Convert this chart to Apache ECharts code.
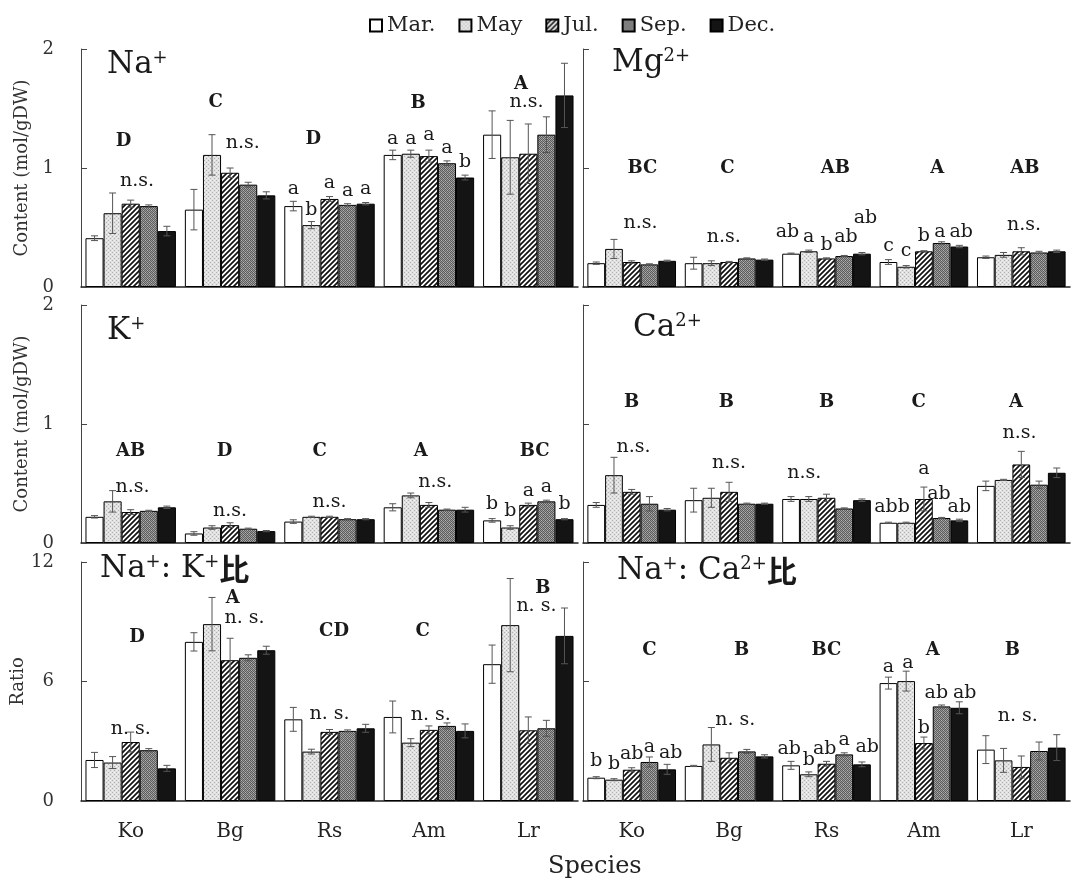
<!DOCTYPE html>
<html><head><meta charset="utf-8">
<script src="https://cdn.jsdelivr.net/npm/echarts@6/dist/echarts.min.js"></script>
<style>html,body{margin:0;padding:0;background:#fff}#c{width:1071px;height:881px}</style>
</head><body><div id="c"></div>
<script>
const species = ['Ko', 'Bg', 'Rs', 'Am', 'Lr'];
const months = ['Mar.', 'May', 'Jul.', 'Sep.', 'Dec.'];
const contentTicks = [0, 1, 2];
const ratioTicks = [0, 6, 12];

// values[month][species]
const naValues = [[0.41,0.65,0.68,1.11,1.28],[0.62,1.11,0.52,1.12,1.09],[0.70,0.96,0.74,1.10,1.12],[0.68,0.86,0.69,1.04,1.28],[0.47,0.77,0.70,0.92,1.61]];
const naErrors = [[0.02,0.17,0.04,0.04,0.20],[0.17,0.17,0.03,0.03,0.31],[0.03,0.04,0.02,0.05,0.25],[0.01,0.02,0.01,0.02,0.15],[0.04,0.03,0.01,0.02,0.27]];
const mgValues = [[0.20,0.20,0.28,0.21,0.25],[0.32,0.20,0.30,0.17,0.27],[0.21,0.21,0.24,0.30,0.30],[0.19,0.24,0.26,0.37,0.29],[0.22,0.23,0.28,0.34,0.30]];
const mgErrors = [[0.01,0.05,0.005,0.02,0.01],[0.08,0.02,0.01,0.01,0.02],[0.01,0.005,0.005,0.005,0.03],[0.005,0.005,0.005,0.01,0.01],[0.005,0.005,0.01,0.01,0.01]];
const kValues = [[0.22,0.08,0.18,0.30,0.19],[0.35,0.13,0.22,0.40,0.13],[0.26,0.15,0.22,0.32,0.32],[0.27,0.12,0.20,0.28,0.35],[0.30,0.10,0.20,0.28,0.20]];
const kErrors = [[0.01,0.015,0.015,0.03,0.015],[0.09,0.015,0.005,0.02,0.015],[0.02,0.02,0.005,0.02,0.015],[0.005,0.005,0.005,0.005,0.01],[0.01,0.005,0.005,0.02,0.005]];
const caValues = [[0.32,0.36,0.37,0.17,0.48],[0.57,0.38,0.37,0.17,0.53],[0.43,0.43,0.38,0.37,0.66],[0.33,0.33,0.29,0.21,0.49],[0.28,0.33,0.36,0.19,0.59]];
const caErrors = [[0.02,0.10,0.02,0.005,0.04],[0.15,0.08,0.02,0.005,0.005],[0.02,0.08,0.03,0.10,0.11],[0.06,0.005,0.005,0.005,0.03],[0.01,0.005,0.01,0.01,0.04]];
const nakValues = [[2.06,7.99,4.10,4.22,6.87],[1.93,8.88,2.48,2.93,8.83],[2.96,7.07,3.47,3.57,3.55],[2.55,7.19,3.52,3.77,3.65],[1.64,7.57,3.65,3.52,8.29]];
const nakErrors = [[0.38,0.46,0.60,0.80,0.96],[0.30,1.34,0.12,0.20,2.34],[0.50,1.10,0.12,0.20,0.67],[0.08,0.15,0.05,0.15,0.40],[0.15,0.20,0.20,0.35,1.40]];
const nacValues = [[1.17,1.76,1.79,5.92,2.58],[1.07,2.84,1.34,6.02,2.04],[1.57,2.17,1.87,2.91,1.71],[1.96,2.49,2.34,4.75,2.51],[1.59,2.24,1.84,4.68,2.68]];
const nacErrors = [[0.05,0.03,0.20,0.30,0.70],[0.05,0.85,0.12,0.50,0.60],[0.10,0.25,0.12,0.30,0.55],[0.25,0.10,0.08,0.07,0.45],[0.25,0.08,0.12,0.30,0.65]];

// significance letters: [species, offset in bar widths from group centre, value height, text]
const naLabels = [[0,-0.4,1.22,'D'],[0,0.35,0.89,'n.s.'],[1,-0.8,1.55,'C'],[1,0.7,1.21,'n.s.'],[2,-0.9,1.24,'D'],[2,-2,0.82,'a'],[2,-1,0.65,'b'],[2,0,0.87,'a'],[2,1,0.81,'a'],[2,2,0.82,'a'],[3,-0.6,1.54,'B'],[3,-2,1.24,'a'],[3,-1,1.24,'a'],[3,0,1.28,'a'],[3,1,1.17,'a'],[3,2,1.05,'b'],[4,-0.4,1.70,'A'],[4,-0.1,1.55,'n.s.']];
const mgLabels = [[0,0.6,1.0,'BC'],[0,0.5,0.535,'n.s.'],[1,-0.1,1.0,'C'],[1,-0.3,0.42,'n.s.'],[2,0.5,1.0,'AB'],[2,-2.2,0.46,'ab'],[2,-1,0.42,'a'],[2,0,0.35,'b'],[2,1.1,0.42,'ab'],[2,2.2,0.58,'ab'],[3,0.75,1.0,'A'],[3,-2,0.34,'c'],[3,-1,0.30,'c'],[3,0,0.43,'b'],[3,0.9,0.46,'a'],[3,2.1,0.46,'ab'],[4,0.2,1.0,'AB'],[4,0.15,0.52,'n.s.']];
const kLabels = [[0,0,0.77,'AB'],[0,0.1,0.47,'n.s.'],[1,-0.3,0.77,'D'],[1,0,0.27,'n.s.'],[2,-0.55,0.77,'C'],[2,0,0.34,'n.s.'],[3,-0.45,0.77,'A'],[3,0.35,0.51,'n.s.'],[4,0.35,0.77,'BC'],[4,-2,0.33,'b'],[4,-1,0.27,'b'],[4,0,0.44,'a'],[4,1,0.47,'a'],[4,2,0.33,'b']];
const caLabels = [[0,0,1.18,'B'],[0,0.1,0.81,'n.s.'],[1,-0.15,1.18,'B'],[1,0,0.67,'n.s.'],[2,0,1.18,'B'],[2,-1.25,0.59,'n.s.'],[3,-0.3,1.18,'C'],[3,-1.8,0.30,'abb'],[3,0,0.62,'a'],[3,0.85,0.41,'ab'],[3,2,0.30,'ab'],[4,-0.3,1.18,'A'],[4,-0.1,0.92,'n.s.']];
const nakLabels = [[0,0.35,8.2,'D'],[0,0,3.6,'n. s.'],[1,0.15,10.2,'A'],[1,0.8,9.2,'n. s.'],[2,0.25,8.54,'CD'],[2,0,4.36,'n. s.'],[3,-0.35,8.5,'C'],[3,0.1,4.32,'n. s.'],[4,0.8,10.7,'B'],[4,0.45,9.8,'n. s.']];
const nacLabels = [[0,1,7.56,'C'],[0,-2,2.0,'b'],[0,-1,1.84,'b'],[0,0,2.34,'ab'],[0,1,2.71,'a'],[0,2.2,2.41,'ab'],[1,0.7,7.56,'B'],[1,0.35,4.05,'n. s.'],[2,0,7.56,'BC'],[2,-2.1,2.63,'ab'],[2,-1,2.07,'b'],[2,-0.1,2.63,'ab'],[2,1,3.04,'a'],[2,2.3,2.71,'ab'],[3,0.5,7.56,'A'],[3,-2,6.72,'a'],[3,-0.9,6.92,'a'],[3,0,3.66,'b'],[3,0.7,5.42,'ab'],[3,2.3,5.42,'ab'],[4,-0.5,7.56,'B'],[4,-0.2,4.25,'n. s.']];

const SERIF = '"DejaVu Serif", "Liberation Serif", serif';
const CJK = '"Noto Sans CJK JP", "Noto Sans CJK SC", sans-serif';
const GAP = 0.09;

function makeCanvas(w, h, draw) {
  const c = document.createElement('canvas');
  c.width = w; c.height = h;
  draw(c.getContext('2d'));
  return c;
}
const mayPat = makeCanvas(4, 4, g => {
  g.fillStyle = '#e0e0e0'; g.fillRect(0, 0, 4, 4);
  g.fillStyle = '#b0b0b0'; g.fillRect(0, 0, 1, 1); g.fillRect(2, 2, 1, 1);
  g.fillStyle = '#f2f2f2'; g.fillRect(2, 0, 1, 1); g.fillRect(0, 2, 1, 1);
});
const julPat = makeCanvas(5, 5, g => {
  g.fillStyle = '#fff'; g.fillRect(0, 0, 5, 5);
  g.strokeStyle = '#111'; g.lineWidth = 1.7;
  g.beginPath();
  g.moveTo(-1, 6); g.lineTo(6, -1);
  g.moveTo(-3.5, 3.5); g.lineTo(3.5, -3.5);
  g.moveTo(1.5, 8.5); g.lineTo(8.5, 1.5);
  g.stroke();
});
const sepPat = makeCanvas(4, 4, g => {
  g.fillStyle = '#9a9a9a'; g.fillRect(0, 0, 4, 4);
  g.fillStyle = '#5c5c5c';
  g.fillRect(0, 0, 1, 1); g.fillRect(2, 0, 1, 1); g.fillRect(1, 1, 1, 1); g.fillRect(3, 1, 1, 1);
  g.fillRect(0, 2, 1, 1); g.fillRect(2, 2, 1, 1); g.fillRect(1, 3, 1, 1); g.fillRect(3, 3, 1, 1);
  g.fillStyle = '#b4b4b4'; g.fillRect(1, 0, 1, 1); g.fillRect(3, 2, 1, 1);
});
const fills = ['#ffffff', {image: mayPat, repeat: 'repeat'}, {image: julPat, repeat: 'repeat'}, {image: sepPat, repeat: 'repeat'}, '#141414'];

const panels = [
  {values: naValues, errors: naErrors, labels: naLabels, ticks: contentTicks, title: '{b|Na}{s|+}', tx: 107, ty: 49},
  {values: mgValues, errors: mgErrors, labels: mgLabels, ticks: contentTicks, title: '{b|Mg}{s|2+}', tx: 612, ty: 47},
  {values: kValues, errors: kErrors, labels: kLabels, ticks: contentTicks, title: '{b|K}{s|+}', tx: 107, ty: 315},
  {values: caValues, errors: caErrors, labels: caLabels, ticks: contentTicks, title: '{b|Ca}{s|2+}', tx: 633, ty: 312},
  {values: nakValues, errors: nakErrors, labels: nakLabels, ticks: ratioTicks, title: '{b|Na}{s|+}{b|: K}{s|+}{c|比}', tx: 100, ty: 553},
  {values: nacValues, errors: nacErrors, labels: nacLabels, ticks: ratioTicks, title: '{b|Na}{s|+}{b|: Ca}{s|2+}{c|比}', tx: 617, ty: 555}
];
const gridPos = [
  {left: 81, top: 49, width: 497, height: 238},
  {left: 583, top: 49, width: 487, height: 238},
  {left: 81, top: 305, width: 497, height: 238},
  {left: 583, top: 305, width: 487, height: 238},
  {left: 81, top: 562, width: 497, height: 239},
  {left: 583, top: 562, width: 487, height: 239}
];

function barW(api) { return api.size([1, 0])[0] * (1 - GAP) / 5; }

function errorRender(params, api) {
  const cat = api.value(0), slot = api.value(1);
  const lo = api.coord([cat, api.value(2)]);
  const hi = api.coord([cat, api.value(3)]);
  const x = lo[0] + (slot - 2) * barW(api);
  const h = 3.5;
  const st = {stroke: '#555', lineWidth: 1};
  return {type: 'group', children: [
    {type: 'line', shape: {x1: x, y1: lo[1], x2: x, y2: hi[1]}, style: st},
    {type: 'line', shape: {x1: x - h, y1: lo[1], x2: x + h, y2: lo[1]}, style: st},
    {type: 'line', shape: {x1: x - h, y1: hi[1], x2: x + h, y2: hi[1]}, style: st}
  ]};
}
function labelRender(list) {
  return function (params, api) {
    const it = list[params.dataIndex];
    const p = api.coord([it[0], it[2]]);
    const x = p[0] + it[1] * barW(api);
    const upper = /^[A-Z]+$/.test(it[3]);
    return {type: 'text', x: x, y: p[1], style: {
      text: it[3], fill: '#1a1a1a', fontFamily: SERIF,
      fontSize: upper ? 18 : 19, fontWeight: upper ? 'bold' : 'normal',
      align: 'center', verticalAlign: 'middle'
    }};
  };
}

const grid = [], xAxis = [], yAxis = [], series = [], graphic = [];
panels.forEach((p, i) => {
  const leftCol = i % 2 === 0;
  const bottom = i >= 4;
  grid.push(gridPos[i]);
  xAxis.push({
    type: 'category', gridIndex: i, data: species,
    axisLine: {lineStyle: {color: '#222', width: 1.5}},
    axisTick: {show: false},
    axisLabel: {show: bottom, fontFamily: SERIF, fontSize: 20, color: '#222', margin: 21}
  });
  const t = p.ticks;
  yAxis.push({
    type: 'value', gridIndex: i, min: t[0], max: t[t.length - 1], interval: t[1] - t[0],
    axisLine: {show: true, lineStyle: {color: '#444', width: 1}},
    axisTick: {show: true, inside: true, length: 6, lineStyle: {color: '#444'}},
    splitLine: {show: false},
    axisLabel: {show: leftCol, fontFamily: SERIF, fontSize: 18, color: '#333', margin: 27},
    name: leftCol ? (bottom ? 'Ratio' : 'Content (mol/gDW)') : '',
    nameLocation: 'middle', nameGap: 50,
    nameTextStyle: {fontFamily: SERIF, fontSize: 18, color: '#333'}
  });
  months.forEach((m, mi) => {
    series.push({
      type: 'bar', name: m, xAxisIndex: i, yAxisIndex: i,
      data: p.values[mi], barGap: '0%', barCategoryGap: (GAP * 100) + '%',
      itemStyle: {color: fills[mi], borderColor: '#000', borderWidth: 1},
      emphasis: {disabled: true}, animation: false
    });
  });
  const errData = [];
  p.values.forEach((row, mi) => row.forEach((v, si) => {
    const e = p.errors[mi][si];
    errData.push([si, mi, v - e, v + e]);
  }));
  series.push({type: 'custom', xAxisIndex: i, yAxisIndex: i, renderItem: errorRender,
    data: errData, encode: {x: 0, y: [2, 3]}, z: 5, animation: false, silent: true});
  series.push({type: 'custom', xAxisIndex: i, yAxisIndex: i, renderItem: labelRender(p.labels),
    data: p.labels.map(l => [l[0], l[2]]), encode: {x: 0, y: 1}, z: 6, animation: false, silent: true});
  graphic.push({type: 'text', left: p.tx, top: p.ty, z: 10, style: {
    text: p.title,
    rich: {
      b: {fontFamily: SERIF, fontSize: 31, fill: '#1a1a1a'},
      s: {fontFamily: SERIF, fontSize: 18, fill: '#1a1a1a', verticalAlign: 'top'},
      c: {fontFamily: CJK, fontSize: 30, fill: '#1a1a1a', fontWeight: 'bold'}
    }
  }});
});
graphic.push({type: 'text', left: 548, top: 855, style: {text: 'Species', fontFamily: SERIF, fontSize: 24, fill: '#222'}});

const chart = echarts.init(document.getElementById('c'), null, {renderer: 'canvas'});
chart.setOption({
  animation: false,
  backgroundColor: '#fff',
  legend: {
    data: months, top: 10, left: 364, itemWidth: 12, itemHeight: 12, itemGap: 23,
    icon: 'rect', selectedMode: false,
    textStyle: {fontFamily: SERIF, fontSize: 21, color: '#222'}
  },
  grid: grid, xAxis: xAxis, yAxis: yAxis, series: series, graphic: graphic
});
</script></body></html>
